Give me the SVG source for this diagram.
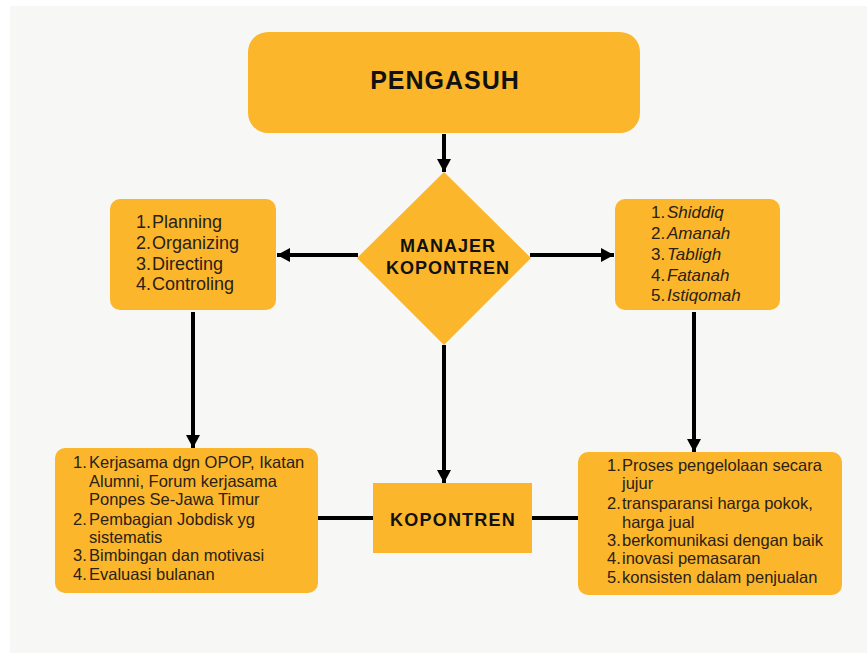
<svg xmlns="http://www.w3.org/2000/svg" width="867" height="653" viewBox="0 0 867 653">
  <defs>
    <marker id="ah" markerUnits="userSpaceOnUse" markerWidth="14" markerHeight="14" refX="13" refY="7" orient="auto">
      <path d="M0,0 L13,7 L0,14 z" fill="#000"/>
    </marker>
    <style>
      .box { fill: #FBB62B; }
      .title { font-family: "Liberation Sans", Arial, sans-serif; font-weight: bold; fill: #111; text-anchor: middle; }
      .list { font-family: "Liberation Sans", Arial, sans-serif; fill: #2a2118; }
      .conn { stroke: #000; stroke-width: 4; fill: none; }
    </style>
  </defs>
  <rect x="0" y="0" width="867" height="653" fill="#ffffff"/>
  <rect x="10" y="6" width="857" height="647" fill="#f7f7f6"/>

  <g id="connectors">
    <line class="conn" x1="444" y1="134" x2="444" y2="172" marker-end="url(#ah)"/>
    <line class="conn" x1="358" y1="255" x2="277" y2="255" marker-end="url(#ah)"/>
    <line class="conn" x1="530" y1="255" x2="614" y2="255" marker-end="url(#ah)"/>
    <line class="conn" x1="193" y1="312" x2="193" y2="448" marker-end="url(#ah)"/>
    <line class="conn" x1="694" y1="312" x2="694" y2="452" marker-end="url(#ah)"/>
    <line class="conn" x1="444" y1="345" x2="444" y2="483" marker-end="url(#ah)"/>
    <line class="conn" x1="318" y1="518" x2="373" y2="518"/>
    <line class="conn" x1="532" y1="518" x2="578" y2="518"/>
  </g>

  <g id="pengasuh">
    <rect class="box" x="248" y="32" width="392" height="101" rx="20"/>
    <text class="title" x="445" y="89" font-size="25" letter-spacing="1">PENGASUH</text>
  </g>

  <g id="manajer">
    <polygon class="box" points="444,172 531,258 444,345 357,258"/>
    <text class="title" x="448" y="252" font-size="18" letter-spacing="1">MANAJER</text>
    <text class="title" x="448" y="274" font-size="18" letter-spacing="1">KOPONTREN</text>
  </g>

  <g id="poac">
    <rect class="box" x="110" y="199" width="166" height="111" rx="10"/>
    <g class="list" font-size="18">
      <text x="136" y="228">1.</text><text x="152" y="228">Planning</text>
      <text x="136" y="249">2.</text><text x="152" y="249">Organizing</text>
      <text x="136" y="270">3.</text><text x="152" y="270">Directing</text>
      <text x="136" y="290">4.</text><text x="152" y="290">Controling</text>
    </g>
  </g>

  <g id="sifat">
    <rect class="box" x="615" y="199" width="165" height="111" rx="10"/>
    <g class="list" font-size="17">
      <text x="651" y="218">1.</text><text x="667" y="218" font-style="italic">Shiddiq</text>
      <text x="651" y="239">2.</text><text x="667" y="239" font-style="italic">Amanah</text>
      <text x="651" y="260">3.</text><text x="667" y="260" font-style="italic">Tabligh</text>
      <text x="651" y="281">4.</text><text x="667" y="281" font-style="italic">Fatanah</text>
      <text x="651" y="301">5.</text><text x="667" y="301" font-style="italic">Istiqomah</text>
    </g>
  </g>

  <g id="kerjasama">
    <rect class="box" x="55" y="448" width="263" height="145" rx="10"/>
    <g class="list" font-size="16.5">
      <text x="73" y="468">1.</text><text x="89" y="468">Kerjasama dgn OPOP, Ikatan</text>
      <text x="89" y="487">Alumni, Forum kerjasama</text>
      <text x="89" y="505">Ponpes Se-Jawa Timur</text>
      <text x="73" y="525">2.</text><text x="89" y="525">Pembagian Jobdisk yg</text>
      <text x="89" y="543">sistematis</text>
      <text x="73" y="561">3.</text><text x="89" y="561">Bimbingan dan motivasi</text>
      <text x="73" y="580">4.</text><text x="89" y="580">Evaluasi bulanan</text>
    </g>
  </g>

  <g id="kopontren">
    <rect class="box" x="373" y="483" width="159" height="70"/>
    <text class="title" x="453" y="526" font-size="18" letter-spacing="1.2">KOPONTREN</text>
  </g>

  <g id="pengelolaan">
    <rect class="box" x="578" y="452" width="264" height="143" rx="10"/>
    <g class="list" font-size="16.5">
      <text x="607" y="471">1.</text><text x="622" y="471">Proses pengelolaan secara</text>
      <text x="622" y="489">jujur</text>
      <text x="607" y="509">2.</text><text x="622" y="509">transparansi harga pokok,</text>
      <text x="622" y="528">harga jual</text>
      <text x="607" y="546">3.</text><text x="622" y="546">berkomunikasi dengan baik</text>
      <text x="607" y="564">4.</text><text x="622" y="564">inovasi pemasaran</text>
      <text x="607" y="583">5.</text><text x="622" y="583">konsisten dalam penjualan</text>
    </g>
  </g>
</svg>
